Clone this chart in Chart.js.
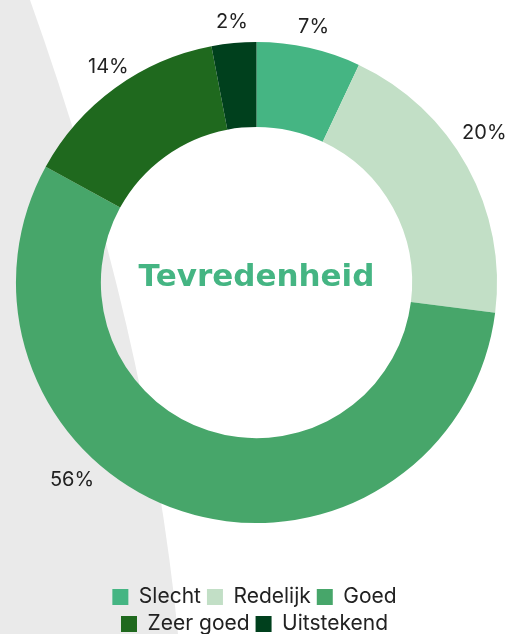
<!DOCTYPE html>
<html>
<head>
<meta charset="utf-8">
<script src="https://cdn.jsdelivr.net/npm/chart.js@4/dist/chart.umd.min.js"></script>
<style>
    html, body { margin: 0; padding: 0; background: #fff; }
    #wrap { width: 509px; height: 634px; position: relative; }
</style>
</head>
<body>
<div id="wrap"><canvas id="myChart"></canvas></div>
<script>
// data
const categories = ['Slecht', 'Redelijk', 'Goed', 'Zeer goed', 'Uitstekend'];
const values = [7, 20, 56, 14, 3];
const pctLabels = ['7%', '20%', '56%', '14%', '2%'];
const colors = ['#45b583', '#c2dfc6', '#47a66a', '#1f691e', '#00401d'];
const centerTitle = 'Tevredenheid';

const LEGEND_WIDTH = 390;

// grijze vlak links achter de grafiek
const bgShape = {
    id: 'bgShape',
    beforeDraw(chart) {
        const ctx = chart.ctx;
        const h = chart.height;
        ctx.save();
        ctx.fillStyle = '#eaeaea';
        ctx.beginPath();
        ctx.moveTo(0, 0);
        ctx.lineTo(30, 0);
        ctx.quadraticCurveTo(148, 330, 178, h);
        ctx.lineTo(0, h);
        ctx.closePath();
        ctx.fill();
        ctx.restore();
    }
};

// legenda smaller maken zodat hij over 2 regels valt (3 + 2)
const narrowLegend = {
    id: 'narrowLegend',
    afterInit(chart) {
        const lg = chart.legend;
        const fit = lg.fit;
        lg.fit = function() {
            const full = this.maxWidth;
            this.maxWidth = Math.min(full, LEGEND_WIDTH);
            fit.call(this);
            this.maxWidth = full;
        };
    },
    beforeDraw(chart) {
        const lg = chart.legend;
        const c = chart.width / 2;
        lg.left = c - LEGEND_WIDTH / 2;
        lg.right = c + LEGEND_WIDTH / 2;
        lg.width = LEGEND_WIDTH;
    }
};

// titel in het midden + percentages buiten de ring
const ringText = {
    id: 'ringText',
    afterDatasetsDraw(chart, args, opts) {
        const ctx = chart.ctx;
        const arcs = chart.getDatasetMeta(0).data;
        if (!arcs.length) return;
        const cx = arcs[0].x, cy = arcs[0].y;
        ctx.save();
        ctx.fillStyle = '#45b583';
        ctx.font = 'bold 31px "DejaVu Sans"';
        ctx.textAlign = 'center';
        ctx.textBaseline = 'middle';
        ctx.fillText(centerTitle, cx, cy - 5);

        ctx.fillStyle = '#222';
        ctx.font = '20px Inter';
        arcs.forEach((arc, i) => {
            const p = arc.getProps(['startAngle', 'endAngle', 'outerRadius']);
            const mid = (p.startAngle + p.endAngle) / 2 + (opts.nudge[i] || 0) * Math.PI / 180;
            const r = p.outerRadius + opts.gap + (opts.extra[i] || 0);
            ctx.fillText(pctLabels[i], cx + Math.cos(mid) * r, cy + Math.sin(mid) * r);
        });
        ctx.restore();
    }
};

const ctx = document.getElementById('myChart').getContext('2d');
new Chart(ctx, {
    type: 'doughnut',
    data: {
        labels: categories,
        datasets: [{
            data: values,
            backgroundColor: colors,
            borderWidth: 0,
            hoverOffset: 0
        }]
    },
    options: {
        responsive: true,
        maintainAspectRatio: false,
        animation: false,
        cutout: '64.7%',
        layout: {
            padding: { top: 42, left: 4, right: 0, bottom: -10.5 }
        },
        plugins: {
            tooltip: { enabled: false },
            legend: {
                position: 'bottom',
                title: {
                    display: true,
                    text: '',
                    padding: { top: 43, bottom: 0 }
                },
                labels: {
                    color: '#222',
                    font: { family: 'Inter', size: 21 },
                    boxWidth: 16,
                    boxHeight: 16,
                    padding: 6
                }
            },
            ringText: {
                gap: 21,
                nudge: [0, -4.5, 25, 1.5, 0],
                extra: [0, 11, 9, 0, 0]
            }
        }
    },
    plugins: [bgShape, narrowLegend, ringText]
});
</script>
</body>
</html>
